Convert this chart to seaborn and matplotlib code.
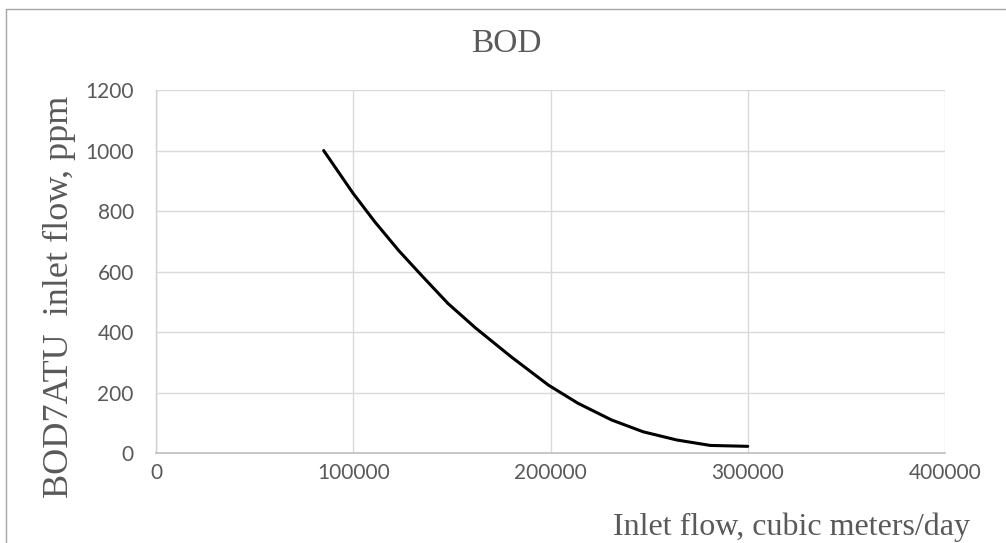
import matplotlib
matplotlib.use("Agg")
import matplotlib.pyplot as plt
import seaborn as sns
import pandas as pd
from matplotlib.lines import Line2D

# Data
inlet_flow = [85000, 100000, 111000, 123000, 135000, 148000, 162000, 180000,
              199000, 214000, 231000, 247000, 264000, 281000, 300000]
bod_ppm = [1000, 858, 764, 670, 585, 495, 414, 319,
           225, 165, 110, 71, 44, 26, 23]
x_ticks = [0, 100000, 200000, 300000, 400000]
y_ticks = [0, 200, 400, 600, 800, 1000, 1200]

title_text = "BOD"
x_label = "Inlet flow, cubic meters/day"
y_label = "BOD7ATU  inlet flow, ppm"

sns.set_theme(style="white")
plt.rcParams['font.family'] = ['Lato', 'DejaVu Sans']

df = pd.DataFrame({"flow": inlet_flow, "bod": bod_ppm})

W, H = 1006, 543
fig = plt.figure(figsize=(W / 100, H / 100), dpi=100)
ax = fig.add_axes([156 / W, 1 - 453.3 / H, (945 - 156) / W, (453.3 - 90) / H])

sns.lineplot(data=df, x="flow", y="bod", ax=ax, color="black", linewidth=2.2,
             sort=False, estimator=None)

ax.set_xlim(0, 400000)
ax.set_ylim(0, 1200)
ax.set_xticks(x_ticks)
ax.set_yticks(y_ticks)
ax.set_xticklabels([str(v) for v in x_ticks])
ax.set_yticklabels([str(v) for v in y_ticks])
ax.grid(True, color="#D9D9D9", linewidth=1.0)
ax.set_axisbelow(True)
for s in ["top", "right"]:
    ax.spines[s].set_visible(False)
ax.spines["left"].set_color("#D0D0D0")
ax.spines["left"].set_linewidth(1.0)
ax.spines["bottom"].set_color("#BFBFBF")
ax.spines["bottom"].set_linewidth(1.2)
ax.tick_params(axis="both", length=0, labelsize=15, labelcolor="#595959")
ax.tick_params(axis="y", pad=16)
ax.tick_params(axis="x", pad=7)
ax.set_xlabel("")
ax.set_ylabel("")

serif = ['Liberation Serif', 'DejaVu Serif']
fig.text(506 / W, 1 - 44 / H, title_text, ha="center", va="center",
         fontsize=24, color="#595959", family=serif)
fig.text(59 / W, 1 - 297 / H, y_label, ha="center", va="center", rotation=90,
         fontsize=26, color="#595959", family=serif)
fig.text(970 / W, 1 - 527 / H, x_label, ha="right", va="center",
         fontsize=23, color="#595959", family=serif)

# chart-area border (top and left edges visible)
fig.add_artist(Line2D([6 / W, 1.0], [1 - 8.5 / H, 1 - 8.5 / H],
                      transform=fig.transFigure, color="#A6A6A6", linewidth=1.0))
fig.add_artist(Line2D([6 / W, 6 / W], [0.0, 1 - 8.5 / H],
                      transform=fig.transFigure, color="#A6A6A6", linewidth=1.0))

fig.savefig("out.png", dpi=100, facecolor="white")
